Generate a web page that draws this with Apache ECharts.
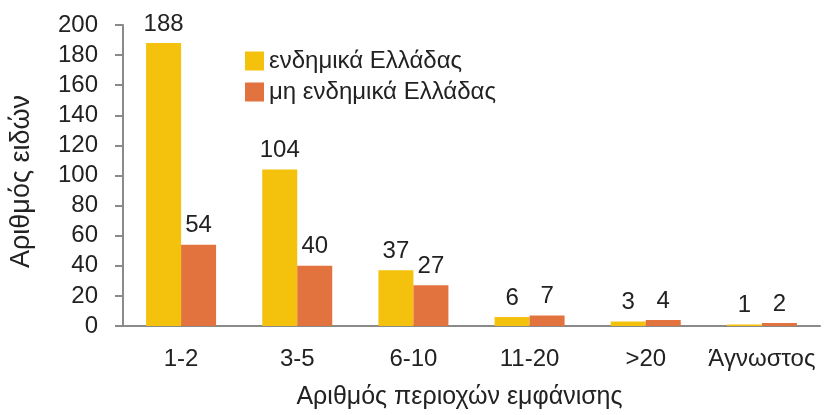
<!DOCTYPE html>
<html>
<head>
<meta charset="utf-8">
<script src="https://cdn.jsdelivr.net/npm/echarts@6/dist/echarts.min.js"></script>
<style>
  body { margin: 0; background: #fff; }
  #chart { width: 824px; height: 415px; }
</style>
</head>
<body>
<div id="chart"></div>
<script>
  var categories = ['1-2', '3-5', '6-10', '11-20', '>20', 'Άγνωστος'];
  var endemic = [188, 104, 37, 6, 3, 1];
  var nonEndemic = [54, 40, 27, 7, 4, 2];

  var font = 'Liberation Sans, Arial, sans-serif';
  var chart = echarts.init(document.getElementById('chart'));

  chart.setOption({
    animation: false,
    textStyle: { fontFamily: font },
    grid: { left: 123, right: 4, top: 25, bottom: 86 },
    legend: {
      orient: 'vertical',
      left: 240,
      top: 44,
      itemWidth: 19,
      itemHeight: 19,
      itemGap: 7,
      icon: 'rect',
      textStyle: { fontSize: 24, color: '#222', fontFamily: font },
      data: ['ενδημικά Ελλάδας', 'μη ενδημικά Ελλάδας']
    },
    xAxis: {
      type: 'category',
      data: categories,
      name: 'Αριθμός περιοχών εμφάνισης',
      nameLocation: 'middle',
      nameGap: 59,
      nameTextStyle: { fontSize: 25, color: '#222', padding: [0, 24, 0, 0] },
      axisLine: { lineStyle: { color: '#8a8a8a', width: 2 } },
      axisTick: { show: false },
      axisLabel: { fontSize: 24, color: '#222', margin: 21, interval: 0 }
    },
    yAxis: {
      type: 'value',
      min: 0,
      max: 200,
      interval: 20,
      name: 'Αριθμός ειδών',
      nameLocation: 'middle',
      nameGap: 88,
      nameTextStyle: { fontSize: 27, color: '#222', padding: [0, 12, 0, 0] },
      splitLine: { show: false },
      axisLine: { show: true, lineStyle: { color: '#8a8a8a', width: 2 } },
      axisTick: { show: true, length: 8, lineStyle: { color: '#8a8a8a', width: 2 } },
      axisLabel: { fontSize: 24, color: '#222', margin: 25 }
    },
    series: [
      {
        name: 'ενδημικά Ελλάδας',
        type: 'bar',
        data: endemic,
        barWidth: 35,
        barGap: '0%',
        itemStyle: { color: '#F4C10C' },
        label: { show: true, position: 'top', fontSize: 24, color: '#222', distance: 7 }
      },
      {
        name: 'μη ενδημικά Ελλάδας',
        type: 'bar',
        data: nonEndemic,
        barWidth: 35,
        barGap: '0%',
        itemStyle: { color: '#E2733F' },
        label: { show: true, position: 'top', fontSize: 24, color: '#222', distance: 7 }
      }
    ]
  });
</script>
</body>
</html>
